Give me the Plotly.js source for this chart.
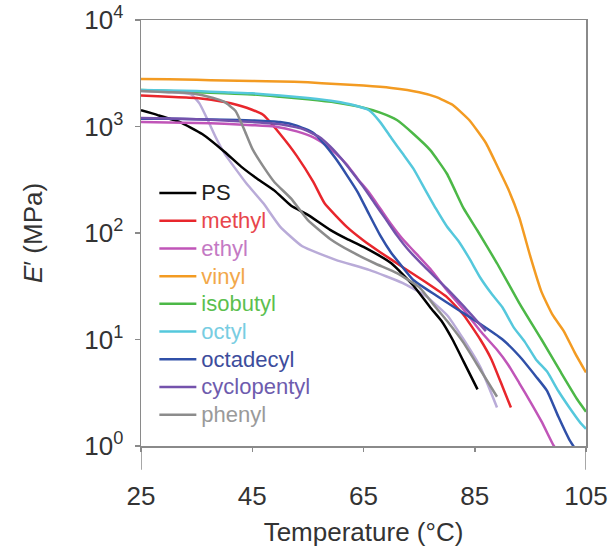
<!DOCTYPE html>
<html>
<head>
<meta charset="utf-8">
<script src="https://cdn.plot.ly/plotly-3.0.1.min.js"></script>
<style>html,body{margin:0;padding:0;background:#fff;}#chart{width:610px;height:551px;}</style>
</head>
<body>
<div id="chart"></div>
<script>
// Storage modulus E' (MPa) vs temperature (°C)
const psT = [25, 28, 32, 36, 40, 43, 46, 49, 52, 55, 59, 62, 65, 70, 74, 77, 79, 81, 83, 85.5];
const psE = [1420, 1280, 1100, 850, 580, 420, 320, 250, 180, 148, 107, 88, 74, 52, 32, 20, 15, 10, 6.2, 3.4];

const methylT = [25, 30, 35, 40, 44, 47, 50, 53, 56, 58, 62, 65, 68, 72, 76, 80, 83, 86, 88, 90, 91.5];
const methylE = [1950, 1900, 1850, 1700, 1500, 1280, 850, 530, 300, 190, 114, 85, 66, 48, 35, 25, 17, 10, 6.5, 3.6, 2.3];

const ethylT = [25, 30, 35, 40, 45, 49, 53, 56, 58, 60, 62, 64, 66, 68, 70, 72, 74, 77, 80, 83, 86, 89, 91, 93, 95, 97, 99, 99.5];
const ethylE = [1100, 1090, 1080, 1060, 1030, 1000, 900, 790, 680, 560, 440, 320, 240, 170, 120, 88, 68, 46, 29, 19, 12, 8, 5.8, 3.9, 2.6, 1.7, 1.05, 0.95];

const vinylT = [25, 30, 35, 40, 45, 50, 55, 60, 65, 70, 75, 78, 81, 84, 87, 89, 91, 93, 95, 97, 99, 101, 103, 105];
const vinylE = [2800, 2780, 2750, 2700, 2680, 2650, 2600, 2500, 2420, 2300, 2100, 1900, 1600, 1150, 700, 430, 260, 140, 60, 28, 17, 12, 7.5, 4.9];

const isobutylT = [25, 30, 35, 40, 45, 50, 55, 60, 65, 68, 71, 74, 77, 80, 83, 85.5, 89, 93, 97, 100.5, 103.5, 105];
const isobutylE = [2200, 2150, 2100, 2050, 2000, 1900, 1800, 1680, 1500, 1350, 1150, 850, 600, 360, 170, 105, 52, 22, 10, 4.9, 2.7, 2.1];

const octylT = [25, 30, 35, 40, 45, 50, 55, 60, 63, 66, 68, 70, 72, 74, 76, 78, 80, 82, 84, 86, 88, 90, 92, 94, 96, 98, 100, 102, 104, 105];
const octylE = [2200, 2180, 2150, 2100, 2050, 1950, 1850, 1720, 1600, 1420, 1100, 780, 560, 400, 260, 170, 115, 85, 58, 38, 27, 20, 13, 9.5, 6.5, 5, 3.3, 2.3, 1.65, 1.45];

const octadecylT = [25, 30, 35, 40, 45, 50, 53, 56, 58, 60, 62, 64, 66, 68, 70, 72, 74, 78, 82, 86, 90, 93, 96, 98, 100, 102, 103];
const octadecylE = [1180, 1180, 1170, 1160, 1140, 1100, 1020, 870, 680, 500, 350, 240, 150, 95, 65, 48, 36, 26, 19, 14, 10, 7, 4.5, 3.3, 1.9, 1.15, 0.95];

const cyclopentylT = [25, 30, 35, 40, 45, 50, 54, 57, 59, 61, 63, 65, 67, 69, 71, 73, 76, 80, 84, 87];
const cyclopentylE = [1200, 1190, 1170, 1140, 1100, 1050, 950, 800, 650, 500, 370, 270, 190, 135, 95, 70, 48, 30, 18, 12];

const phenylT = [25, 30, 34, 38, 40, 42, 43.5, 45, 47, 49, 52, 55, 59, 63, 67, 71, 75, 78, 80, 83, 86, 89];
const phenylE = [2150, 2100, 2050, 1850, 1700, 1400, 950, 620, 420, 300, 210, 132, 88, 66, 52, 42, 31, 20, 15, 9.3, 5.2, 2.9];

// unlabelled light curve in the reference
const extraT = [25, 30, 34, 35.5, 37, 38.5, 40, 42, 44, 47, 50, 54, 60, 66, 72, 76, 80, 83, 86, 89];
const extraE = [2150, 2100, 2000, 1650, 1150, 780, 560, 400, 290, 190, 115, 75, 56, 45, 34, 26, 17, 10, 5.5, 2.3];

const seriesNames = ['PS', 'methyl', 'ethyl', 'vinyl', 'isobutyl', 'octyl', 'octadecyl', 'cyclopentyl', 'phenyl'];
const yTickVals = [1, 10, 100, 1000, 10000];
const yTickText = ['10<sup>0</sup>', '10<sup>1</sup>', '10<sup>2</sup>', '10<sup>3</sup>', '10<sup>4</sup>'];
const xTickVals = [25, 45, 65, 85, 105];

const lineColors = ['#000000', '#e8262c', '#c055b8', '#f39b22', '#4cb847', '#55c8dc', '#3050a8', '#7452ac', '#8c8c8c'];
const textColors = ['#222222', '#e8464c', '#c47ac4', '#f2a84a', '#5cbf4f', '#78cde2', '#3d4d9c', '#6e5cae', '#9a9a9a'];
const xs = [psT, methylT, ethylT, vinylT, isobutylT, octylT, octadecylT, cyclopentylT, phenylT];
const ys = [psE, methylE, ethylE, vinylE, isobutylE, octylE, octadecylE, cyclopentylE, phenylE];

const traces = [];
traces.push({x: extraT, y: extraE, mode: 'lines', showlegend: false, name: '',
  line: {color: '#b9abd8', width: 2.5, shape: 'spline', smoothing: 0.45}, hoverinfo: 'skip'});
for (let i = 0; i < seriesNames.length; i++) {
  traces.push({
    x: xs[i], y: ys[i], mode: 'lines',
    name: '<span style="color:' + textColors[i] + ';font-size:22px">' + seriesNames[i] + '</span>',
    line: {color: lineColors[i], width: 2.5, shape: 'spline', smoothing: 0.45}
  });
}
const font = 'Liberation Sans, Arial, sans-serif';
const layout = {
  width: 610, height: 551,
  margin: {l: 141, r: 24, t: 20, b: 105},
  paper_bgcolor: '#ffffff', plot_bgcolor: '#ffffff',
  font: {family: font, color: '#333333', size: 26},
  showlegend: true,
  legend: {x: 0.03, y: 0.638, xanchor: 'left', yanchor: 'top', bgcolor: 'rgba(0,0,0,0)',
    font: {family: font, size: 19}, itemwidth: 37, tracegroupgap: 0},
  xaxis: {
    range: [25, 105], tickvals: xTickVals, ticktext: xTickVals.map(String),
    showgrid: false, zeroline: false, showline: true, linecolor: '#8a8a8a', linewidth: 1.5,
    mirror: true, ticks: 'outside', ticklen: 4, tickcolor: '#8a8a8a', tickwidth: 1.5,
    ticklabelstandoff: 22,
    tickfont: {size: 26, color: '#333333'},
    title: {text: 'Temperature (°C)', font: {size: 26, color: '#333333'}, standoff: 13}
  },
  yaxis: {
    type: 'log', range: [0, 4], tickvals: yTickVals, ticktext: yTickText,
    showgrid: false, zeroline: false, showline: true, linecolor: '#8a8a8a', linewidth: 1.5,
    mirror: true, ticks: 'outside', ticklen: 5, tickcolor: '#8a8a8a', tickwidth: 1.5,
    ticklabelstandoff: 6,
    tickfont: {size: 26, color: '#333333'},
    title: {text: '<i>E</i>\u2032 (MPa)', font: {size: 26, color: '#333333'}, standoff: 34}
  },
  shapes: [
    {type: 'line', xref: 'x', yref: 'paper', x0: 25, x1: 25, y0: 0, y1: -0.056, line: {color: '#8a8a8a', width: 1.5}},
    {type: 'line', xref: 'x', yref: 'paper', x0: 105, x1: 105, y0: 0, y1: -0.056, line: {color: '#8a8a8a', width: 1.5}}
  ]
};
Plotly.newPlot('chart', traces, layout, {staticPlot: true});
</script>
</body>
</html>
